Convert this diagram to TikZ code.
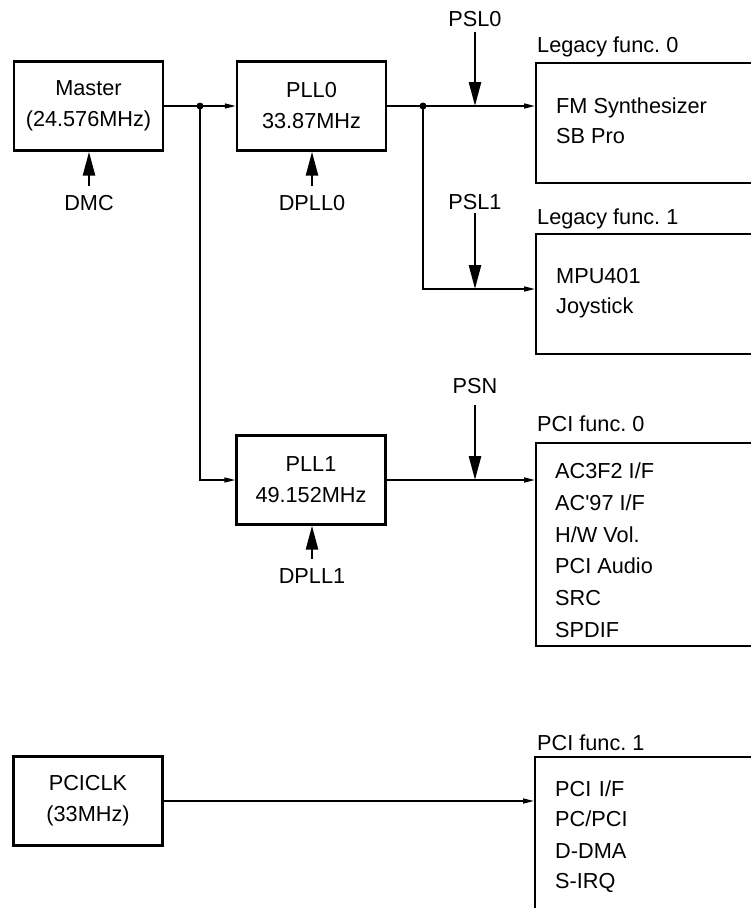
\documentclass[tikz,border=0pt]{standalone}
\usepackage{fontspec}
\setmainfont{Liberation Sans}
\usetikzlibrary{arrows.meta}
\frenchspacing
\begin{document}
\begin{tikzpicture}[x=1pt,y=-1pt,
  font=\fontsize{21.7pt}{31pt}\selectfont,
  box/.style={draw,line width=2.4pt,minimum width=149pt,minimum height=89pt,align=center,inner sep=0pt},
  openbox/.style={draw,line width=2.4pt,anchor=north west,minimum width=300pt,inner sep=0pt},
  lbl/.style={anchor=base,inner sep=0pt},
  item/.style={anchor=base west,inner sep=0pt},
  conn/.style={line width=1.5pt,-{Triangle[length=11pt,width=5pt]}},
  barrow/.style={line width=2.6pt,-{Triangle[length=24pt,width=12pt]}},
  jdot/.style={fill=black}]
\useasboundingbox (0,0) rectangle (751,908);
\clip (0,0) rectangle (751,908);

% source boxes
\node[box] (master) at (88.5,106) {Master\\(24.576MHz)};
\node[box] (pll0) at (311.5,106) {PLL0\\33.87MHz};
\node[box] (pll1) at (311,480) {PLL1\\49.152MHz};
\node[box] (pciclk) at (88,801) {PCICLK\\(33MHz)};

% function boxes (cut by the right edge)
\node[openbox,minimum height=120pt] (leg0) at (535,62) {};
\node[openbox,minimum height=120pt] (leg1) at (535,233) {};
\node[openbox,minimum height=203pt] (pci0) at (535,442) {};
\node[openbox,minimum height=300pt] (pci1) at (534,756) {};

% titles of function boxes
\node[item] (t0) at (537,52) {Legacy func. 0};
\node[item] (t1) at (537,224) {Legacy func. 1};
\node[item] (t2) at (537,431) {PCI func. 0};
\node[item] (t3) at (537,750) {PCI func. 1};

% contents
\node[item] (l0a) at (556,113) {FM Synthesizer};
\node[item] (l0b) at (556,143) {SB Pro};
\node[item] (l1a) at (556,283) {MPU401};
\node[item] (l1b) at (556,313) {Joystick};
\foreach \i/\y/\t in {1/478/{AC3F2 I/F},2/510/{AC\textquotesingle 97 I/F},3/542/{H/W Vol.},4/573/{PCI Audio},5/605/{SRC},6/637/{SPDIF}}
  \node[item] (p0-\i) at (555,\y) {\t};
\foreach \i/\y/\t in {1/796/{PCI\hspace{0.35em}I/F},2/826/{PC/PCI},3/858/{D-DMA},4/888/{S-IRQ}}
  \node[item] (p1-\i) at (555,\y) {\t};

% control labels
\node[lbl] (psl0) at (475,26) {PSL0};
\node[lbl] (psl1) at (475,209) {PSL1};
\node[lbl] (psn) at (475,393) {PSN};
\node[lbl] (dmc) at (89,210) {DMC};
\node[lbl] (dpll0) at (312,210) {DPLL0};
\node[lbl] (dpll1) at (312,583) {DPLL1};

% junctions and inputs
\coordinate (j0) at (200,106);
\coordinate (j1) at (423,106);
\coordinate (l0in) at (535,106);
\coordinate (l1in) at (535,289);
\coordinate (p0in) at (535,480);
\coordinate (p1in) at (534,801);

% clock connectors
\draw[conn] (master) -- (pll0);
\draw[conn] (j0) |- (pll1);
\draw[conn] (pll0) -- (l0in);
\draw[conn] (j1) |- (l1in);
\draw[conn] (pll1) -- (p0in);
\draw[conn] (pciclk) -- (p1in);
\fill[jdot] (j0) circle (3.5pt);
\fill[jdot] (j1) circle (3.5pt);

% control arrows
\draw[barrow,shorten <=6pt] (psl0) -- (psl0 |- l0in);
\draw[barrow,shorten <=4pt] (psl1) -- (psl1 |- l1in);
\draw[barrow,shorten <=12pt] (psn) -- (psn |- p0in);
\draw[barrow,shorten <=9pt] (dmc) -- (dmc |- master.south);
\draw[barrow,shorten <=9pt] (dpll0) -- (dpll0 |- pll0.south);
\draw[barrow,shorten <=9pt] (dpll1) -- (dpll1 |- pll1.south);
\end{tikzpicture}
\end{document}
